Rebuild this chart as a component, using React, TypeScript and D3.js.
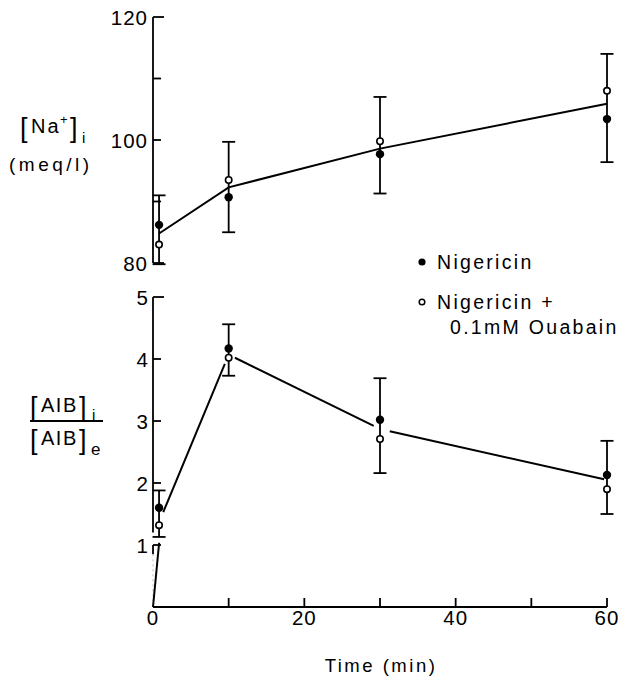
import React from "react";
import * as d3 from "d3";

// ---- data ----
const times = [0.8, 10, 30, 60];
const naFilled = [86.2, 90.7, 97.7, 103.4];
const naOpen = [83.0, 93.5, 99.8, 108.0];
const naErrHigh = [91.0, 99.7, 107.0, 114.0];
const naErrLow = [79.8, 85.0, 91.3, 96.4];
const naFitT = [0.8, 10, 30, 60];
const naFitV = [84.8, 92.3, 98.6, 105.9];

const aibFilled = [1.6, 4.17, 3.02, 2.13];
const aibOpen = [1.32, 4.02, 2.71, 1.9];
const aibErrHigh = [1.88, 4.56, 3.69, 2.68];
const aibErrLow = [1.13, 3.73, 2.16, 1.5];
const aibFitT = [0, 1.15, 10, 30, 60];
const aibFitV = [0, 1.47, 4.07, 2.87, 2.05];

const xTicks = [0, 10, 20, 30, 40, 50, 60];
const xTickLabels = ["0", "", "20", "", "40", "", "60"];
const naTicks = [80, 90, 100, 110, 120];
const naTickLabels = ["80", "", "100", "", "120"];
const aibTicks = [1, 2, 3, 4, 5];
const aibTickLabels = ["1", "2", "3", "4", "5"];

const legendLabels = ["Nigericin", "Nigericin +", "0.1mM Ouabain"];

// ---- layout ----
const W = 626;
const H = 680;
const FONT = "'Liberation Sans', Arial, sans-serif";

const x = d3.scaleLinear().domain([0, 60]).range([153, 607]);
const yNa = d3.scaleLinear().domain([80, 120]).range([263, 17]);
const yAib = d3.scaleLinear().domain([0, 5]).range([607, 297]);

// trims (px) for gaps in the lower line: [startTrim, endTrim] per segment
const aibTrims = [
  [0, 27],
  [4, 10],
  [7, 7],
  [10, 3],
];

function trimmedSegments(ts: number[], vs: number[], ys: (v: number) => number, trims: number[][]) {
  const segs: [number, number, number, number][] = [];
  for (let i = 0; i < ts.length - 1; i++) {
    const x1 = x(ts[i]), y1 = ys(vs[i]);
    const x2 = x(ts[i + 1]), y2 = ys(vs[i + 1]);
    const len = Math.hypot(x2 - x1, y2 - y1);
    const ux = (x2 - x1) / len, uy = (y2 - y1) / len;
    const [a, b] = trims[i];
    segs.push([x1 + ux * a, y1 + uy * a, x2 - ux * b, y2 - uy * b]);
  }
  return segs;
}

function ErrBars({ ys, hi, lo }: { ys: (v: number) => number; hi: number[]; lo: number[] }) {
  return (
    <g stroke="#000" strokeWidth={1.8}>
      {times.map((t, i) => {
        const cx = x(t);
        return (
          <g key={i}>
            <line x1={cx} x2={cx} y1={ys(hi[i])} y2={ys(lo[i])} />
            <line x1={cx - 6.5} x2={cx + 6.5} y1={ys(hi[i])} y2={ys(hi[i])} />
            <line x1={cx - 6.5} x2={cx + 6.5} y1={ys(lo[i])} y2={ys(lo[i])} />
          </g>
        );
      })}
    </g>
  );
}

function Markers({ ys, filled, open }: { ys: (v: number) => number; filled: number[]; open: number[] }) {
  return (
    <g>
      {times.map((t, i) => (
        <circle key={"f" + i} cx={x(t)} cy={ys(filled[i])} r={4.2} fill="#000" />
      ))}
      {times.map((t, i) => (
        <circle key={"o" + i} cx={x(t)} cy={ys(open[i])} r={3.2} fill="#fff" stroke="#000" strokeWidth={1.6} />
      ))}
    </g>
  );
}

const txt = { fontFamily: FONT, fill: "#000" } as const;

export default function App() {
  const naLine = d3
    .line<number>()
    .x((_, i) => x(naFitT[i]))
    .y((v) => yNa(v))(naFitV) as string;
  const aibSegs = trimmedSegments(aibFitT, aibFitV, yAib, aibTrims);
  const x0 = x(0);

  return (
    <svg width={W} height={H} style={{ position: "absolute", left: 0, top: 0, background: "#fff" }}>
      <rect width={W} height={H} fill="#fff" />

      {/* ---- top panel axis ---- */}
      <g stroke="#000" strokeWidth={1.8} fill="none">
        <line x1={x0} x2={x0} y1={yNa(120)} y2={yNa(80)} />
        {naTicks.map((v, i) => (
          <line key={i} x1={x0} x2={x0 + (v === 80 || v === 120 ? 11 : 8)} y1={yNa(v)} y2={yNa(v)} />
        ))}
      </g>
      {naTicks.map((v, i) => (
        <text key={i} x={x0 - 5} y={yNa(v) + 7.5} textAnchor="end" fontSize={20.5} letterSpacing={1} style={txt}>
          {naTickLabels[i]}
        </text>
      ))}

      {/* top y label */}
      <g style={txt}>
        <text x={20} y={137} fontSize={27} style={txt}>[</text>
        <text x={31} y={133} fontSize={20} letterSpacing={2} style={txt}>Na</text>
        <text x={60} y={124} fontSize={13} style={txt}>+</text>
        <text x={70} y={137} fontSize={27} style={txt}>]</text>
        <text x={82} y={143} fontSize={15} style={txt}>i</text>
        <text x={9} y={171} fontSize={19} letterSpacing={3.5} style={txt}>(meq/l)</text>
      </g>

      {/* top data */}
      <path d={naLine} fill="none" stroke="#000" strokeWidth={2} />
      <ErrBars ys={yNa} hi={naErrHigh} lo={naErrLow} />
      <Markers ys={yNa} filled={naFilled} open={naOpen} />

      {/* legend */}
      <circle cx={422} cy={262} r={3.6} fill="#000" />
      <text x={437} y={269} fontSize={19.5} letterSpacing={2.3} style={txt}>{legendLabels[0]}</text>
      <circle cx={422} cy={302} r={2.8} fill="#fff" stroke="#000" strokeWidth={1.5} />
      <text x={437} y={309} fontSize={19.5} letterSpacing={2.3} style={txt}>{legendLabels[1]}</text>
      <text x={450} y={334} fontSize={19.5} letterSpacing={2.3} style={txt}>{legendLabels[2]}</text>

      {/* ---- bottom panel axes ---- */}
      <g stroke="#000" strokeWidth={1.8} fill="none">
        <line x1={x0} x2={x0} y1={yAib(5)} y2={yAib(1.2)} />
        {aibTicks.map((v, i) => (
          <line key={i} x1={x0} x2={x0 + (v === 5 ? 11 : 8)} y1={yAib(v)} y2={yAib(v)} />
        ))}
        <line x1={x0} x2={x0} y1={yAib(1)} y2={yAib(0.85)} />
        <line x1={x0} x2={x(60)} y1={yAib(0)} y2={yAib(0)} />
        {xTicks.map((t, i) =>
          t === 0 ? null : <line key={i} x1={x(t)} x2={x(t)} y1={yAib(0)} y2={yAib(0) - 9} />
        )}
      </g>
      <line x1={x0} x2={x0} y1={yAib(0.85)} y2={yAib(0)} stroke="#bbb" strokeWidth={1} strokeDasharray="2 3" />
      {aibTicks.map((v, i) => (
        <text key={i} x={x0 - 5} y={yAib(v) + 7.5} textAnchor="end" fontSize={20.5} style={txt}>
          {aibTickLabels[i]}
        </text>
      ))}
      {xTicks.map((t, i) => (
        <text key={i} x={x(t)} y={625} textAnchor="middle" fontSize={20.5} letterSpacing={1} style={txt}>
          {xTickLabels[i]}
        </text>
      ))}
      <text x={381} y={672} textAnchor="middle" fontSize={18.5} letterSpacing={2.5} style={txt}>
        Time (min)
      </text>

      {/* bottom y label */}
      <g>
        <text x={30} y={416} fontSize={27} style={txt}>[</text>
        <text x={41} y={412} fontSize={20} letterSpacing={1.5} style={txt}>AIB</text>
        <text x={79} y={416} fontSize={27} style={txt}>]</text>
        <text x={92} y={420} fontSize={15} style={txt}>i</text>
        <line x1={30} x2={103} y1={421} y2={421} stroke="#000" strokeWidth={1.8} />
        <text x={30} y={449} fontSize={27} style={txt}>[</text>
        <text x={41} y={445} fontSize={20} letterSpacing={1.5} style={txt}>AIB</text>
        <text x={79} y={449} fontSize={27} style={txt}>]</text>
        <text x={91} y={455} fontSize={17} style={txt}>e</text>
      </g>

      {/* bottom data */}
      <g stroke="#000" strokeWidth={2}>
        {aibSegs.map((s, i) => (
          <line key={i} x1={s[0]} y1={s[1]} x2={s[2]} y2={s[3]} />
        ))}
      </g>
      <ErrBars ys={yAib} hi={aibErrHigh} lo={aibErrLow} />
      <Markers ys={yAib} filled={aibFilled} open={aibOpen} />
    </svg>
  );
}
